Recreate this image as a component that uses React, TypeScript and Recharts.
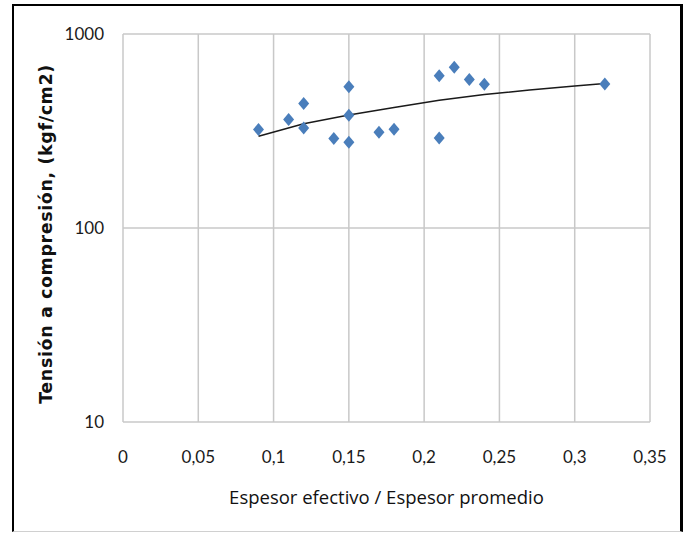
import React from "react";
import { ScatterChart, Scatter, XAxis, YAxis, CartesianGrid } from "recharts";

const ratioValues = [0.09, 0.11, 0.12, 0.12, 0.14, 0.15, 0.15, 0.15, 0.17, 0.18, 0.21, 0.21, 0.22, 0.23, 0.24, 0.32];
const strengthValues = [322, 362, 438, 328, 289, 535, 381, 277, 312, 323, 291, 610, 673, 583, 550, 552];

const trendX = [0.09, 0.12, 0.15, 0.18, 0.21, 0.24, 0.27, 0.3, 0.32];
const trendY = [297, 345, 382, 418, 455, 487, 515, 540, 555];

const xTicks = [0, 0.05, 0.1, 0.15, 0.2, 0.25, 0.3, 0.35];
const yTicks = [10, 100, 1000];

const yTitle = "Tensión a compresión, (kgf/cm2)";
const xTitle = "Espesor efectivo / Espesor promedio";

const points = ratioValues.map((x, i) => ({ x, y: strengthValues[i] }));
const trend = trendX.map((x, i) => ({ x, y: trendY[i] }));

const fmtX = (v: number) => String(v).replace(".", ",");

const Diamond = (props: any) => {
  const { cx, cy } = props;
  if (cx == null || cy == null) return <g />;
  return (
    <polygon
      points={`${cx},${cy - 6.5} ${cx + 5.5},${cy} ${cx},${cy + 6.5} ${cx - 5.5},${cy}`}
      fill="#4a7ebb"
    />
  );
};

const Empty = () => <g />;

const YTitle = () => {
  const cx = 46;
  const cy = 234;
  return (
    <text
      x={cx}
      y={cy}
      transform={`rotate(-90 ${cx} ${cy})`}
      textAnchor="middle"
      dominantBaseline="central"
      style={{
        fontFamily: "'DejaVu Sans', sans-serif",
        fontWeight: "bold",
        fontSize: 17.5,
        letterSpacing: 0.6,
        fill: "#111",
      }}
    >
      {yTitle}
    </text>
  );
};

const tickFont = { fontFamily: "Lato, 'Open Sans', sans-serif", fontSize: 17, fill: "#1a1a1a" };

export default function App() {
  return (
    <div style={{ position: "fixed", left: 0, top: 0, width: 689, height: 535, background: "#fff" }}>
      <div
        style={{
          position: "absolute",
          left: 12,
          top: 4,
          width: 671,
          height: 528,
          borderLeft: "2px solid #000",
          borderTop: "2px solid #000",
          borderRight: "3px solid #000",
          borderBottom: "1px solid #d0d0d0",
          boxSizing: "border-box",
        }}
      />
      <div style={{ position: "absolute", left: 0, top: 0 }}>
        <ScatterChart width={689} height={535} margin={{ top: 34, right: 39, bottom: 83, left: 63 }}>
          <CartesianGrid stroke="#c8c8c8" strokeWidth={1.5} />
          <XAxis
            type="number"
            dataKey="x"
            domain={[0, 0.35]}
            ticks={xTicks}
            tickFormatter={fmtX}
            interval={0}
            allowDataOverflow
            axisLine={false}
            tickLine={false}
            tickSize={0}
            tickMargin={29}
            height={30}
            tick={tickFont}
            label={{
              value: xTitle,
              position: "bottom",
              offset: 39,
              style: { fontFamily: "'Open Sans', sans-serif", fontSize: 18.5, fill: "#111" },
            }}
          />
          <YAxis
            type="number"
            dataKey="y"
            scale="log"
            domain={[10, 1000]}
            ticks={yTicks}
            allowDataOverflow
            axisLine={false}
            tickLine={false}
            tickSize={0}
            tickMargin={19}
            width={60}
            tick={tickFont}
            label={<YTitle />}
          />
          <Scatter
            data={trend}
            shape={Empty}
            line={{ stroke: "#1a1a1a", strokeWidth: 1.5 }}
            lineType="joint"
            isAnimationActive={false}
          />
          <Scatter data={points} shape={Diamond} isAnimationActive={false} />
        </ScatterChart>
      </div>
    </div>
  );
}
